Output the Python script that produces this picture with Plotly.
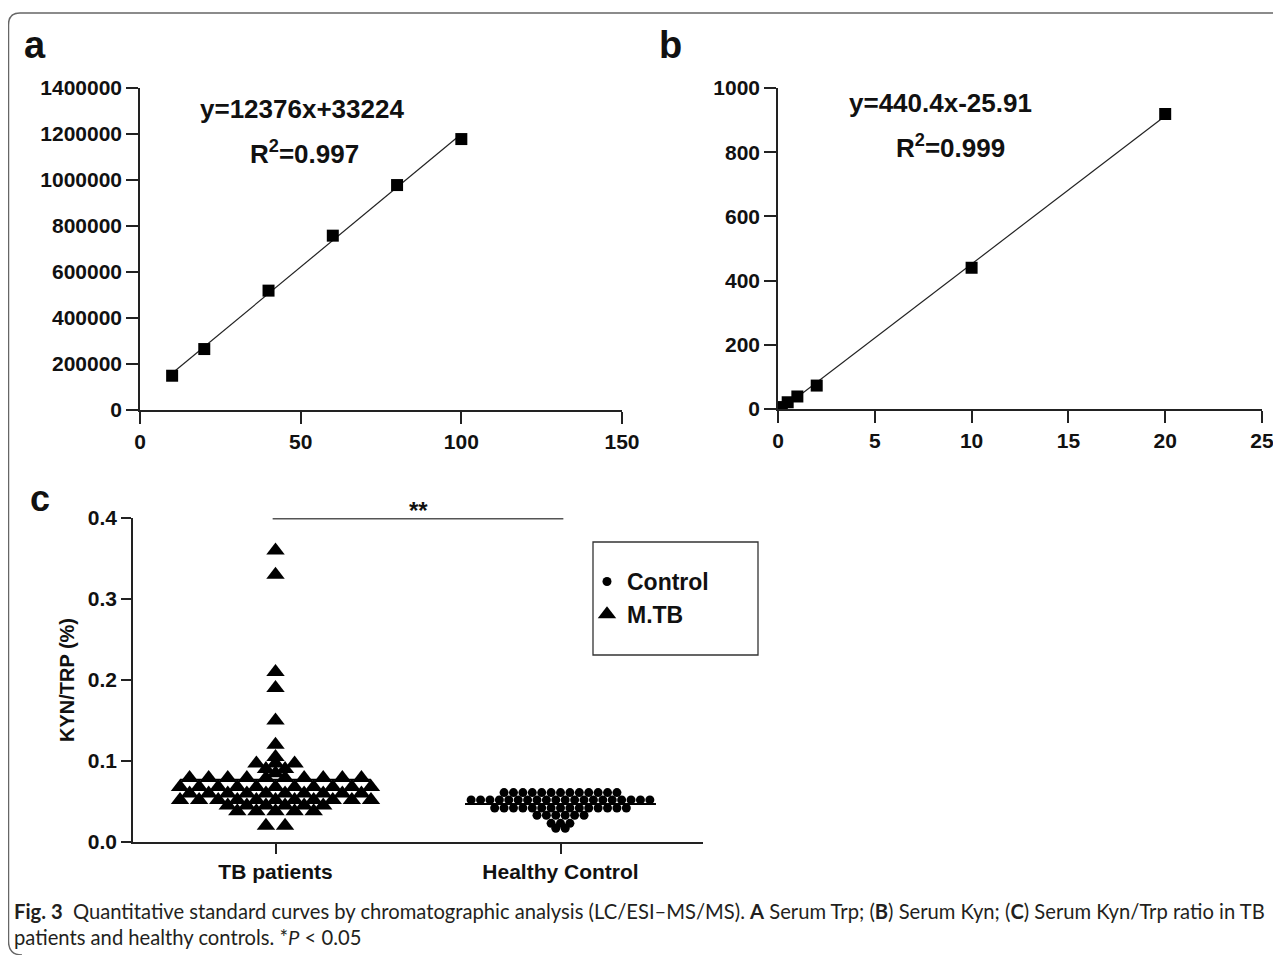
import numpy as np
import plotly.graph_objects as go

# ---------------- data ----------------
# Panel a: Serum Trp standard curve
a_x = [10, 20, 40, 60, 80, 100]
a_y = [149000, 265000, 519000, 758000, 978000, 1178000]
a_eq = "y=12376x+33224"
a_r2 = "R<sup>2</sup>=0.997"

# Panel b: Serum Kyn standard curve
b_x = [0.2, 0.5, 1, 2, 10, 20]
b_y = [6, 21, 39, 73, 440, 919]
b_eq = "y=440.4x-25.91"
b_r2 = "R<sup>2</sup>=0.999"

# Panel c: KYN/TRP ratio
c_categories = ["TB patients", "Healthy Control"]
tb_values = ([0.36, 0.33, 0.21, 0.19, 0.15, 0.12, 0.105,
              0.097, 0.097, 0.097, 0.09, 0.09, 0.085]
             + [0.079] * 10 + [0.068] * 11 + [0.06] * 10 + [0.052] * 11
             + [0.045] * 6 + [0.038] * 5 + [0.02] * 2)
control_values = ([0.061] * 13 + [0.052] * 20 + [0.042] * 15
                  + [0.033] * 6 + [0.023] * 3 + [0.017] * 2)
a_xticks = [0, 50, 100, 150]
a_yticks = [0, 200000, 400000, 600000, 800000, 1000000, 1200000, 1400000]
b_xticks = [0, 5, 10, 15, 20, 25]
b_yticks = [0, 200, 400, 600, 800, 1000]
c_yticks = [0.0, 0.1, 0.2, 0.3, 0.4]
legend_names = ["Control", "M.TB"]

# ---------------- layout helpers ----------------
W, H = 1281, 955
OFF = 8  # page body margin


def px(x):
    return (x - OFF) / W


def py(y):
    return 1 - (y - OFF) / H


def row_offsets(values, spacing):
    """Centre equal values in a horizontal row (column-scatter layout)."""
    counts = {}
    for v in values:
        counts[v] = counts.get(v, 0) + 1
    seen = {}
    offs = []
    for v in values:
        i = seen.get(v, 0)
        seen[v] = i + 1
        n = counts[v]
        offs.append((i - (n - 1) / 2) * spacing)
    return offs


FONT = "Liberation Sans"
INK = "#111111"
tickfont = dict(family=FONT, size=21, color=INK, weight="bold")

fig = go.Figure()

# ---- panel a ----
ka, ba = np.polyfit(a_x, a_y, 1)
ax_line = [min(a_x), max(a_x)]
fig.add_trace(go.Scatter(x=ax_line, y=[ka * v + ba for v in ax_line], mode="lines",
                         line=dict(color="#222", width=1.2), showlegend=False,
                         xaxis="x", yaxis="y"))
fig.add_trace(go.Scatter(x=a_x, y=a_y, mode="markers",
                         marker=dict(symbol="square", size=12, color="black"),
                         showlegend=False, xaxis="x", yaxis="y"))

# ---- panel b ----
kb, bb = np.polyfit(b_x, b_y, 1)
bx_line = [min(b_x), max(b_x)]
fig.add_trace(go.Scatter(x=bx_line, y=[kb * v + bb for v in bx_line], mode="lines",
                         line=dict(color="#222", width=1.2), showlegend=False,
                         xaxis="x2", yaxis="y2"))
fig.add_trace(go.Scatter(x=b_x, y=b_y, mode="markers",
                         marker=dict(symbol="square", size=12, color="black"),
                         showlegend=False, xaxis="x2", yaxis="y2"))

# ---- panel c ----
tb_x = [0 + o for o in row_offsets(tb_values, 0.067)]
ct_x = [1 + o for o in row_offsets(control_values, 0.033)]
fig.add_trace(go.Scatter(x=ct_x, y=control_values, mode="markers", name=legend_names[0],
                         marker=dict(symbol="circle", size=9, color="black"),
                         xaxis="x3", yaxis="y3"))
fig.add_trace(go.Scatter(x=tb_x, y=tb_values, mode="markers", name=legend_names[1],
                         marker=dict(symbol="triangle-up", size=16, color="black"),
                         xaxis="x3", yaxis="y3"))

shapes = []
for idx, vals in enumerate([tb_values, control_values]):
    m = float(np.mean(vals))
    shapes.append(dict(type="line", xref="x3", yref="y3", x0=idx - 0.335, x1=idx + 0.335,
                       y0=m, y1=m, line=dict(color="black", width=2)))
# significance bar
shapes.append(dict(type="line", xref="x3", yref="y3", x0=-0.01, x1=1.01, y0=0.399, y1=0.399,
                   line=dict(color="#555", width=1.5)))
# legend box
shapes.append(dict(type="rect", xref="paper", yref="paper", x0=px(593), x1=px(758),
                   y0=py(655), y1=py(542), line=dict(color="#333", width=1.3),
                   fillcolor="rgba(0,0,0,0)"))
# outer rounded frame
pts = [("M", 22, 955), ("Q", 8.5, 955, 8.5, 941), ("L", 8.5, 25),
       ("Q", 8.5, 13, 20, 13), ("L", 1290, 13)]
path = ""
for p in pts:
    cmd = p[0]
    coords = p[1:]
    s = []
    for i in range(0, len(coords), 2):
        s.append(f"{px(coords[i]):.5f},{py(coords[i+1]):.5f}")
    path += cmd + " " + " ".join(s) + " "
shapes.append(dict(type="path", xref="paper", yref="paper", path=path.strip(),
                   line=dict(color="#666", width=1.5)))

axis_common = dict(showline=True, linecolor="#222", linewidth=1.5, ticks="outside",
                   ticklen=12, tickwidth=1.5, tickcolor="#222", showgrid=False,
                   zeroline=False, tickfont=tickfont, fixedrange=True, automargin=False)

fig.update_layout(
    template="none",
    width=W, height=H, margin=dict(l=0, r=0, t=0, b=0, autoexpand=False),
    paper_bgcolor="white", plot_bgcolor="white",
    xaxis=dict(domain=[px(140), px(622)], range=[0, 150], tickvals=a_xticks,
               anchor="y", **axis_common),
    yaxis=dict(domain=[py(410), py(88)], range=[0, 1400000], tickvals=a_yticks,
               tickformat="d", anchor="x", **axis_common),
    xaxis2=dict(domain=[px(778), px(1262)], range=[0, 25], tickvals=b_xticks,
                anchor="y2", **axis_common),
    yaxis2=dict(domain=[py(409), py(88)], range=[0, 1000], tickvals=b_yticks,
                anchor="x2", **axis_common),
    xaxis3=dict(domain=[px(133), px(703)], range=[-0.5, 1.5], tickvals=[0, 1],
                ticktext=c_categories, anchor="y3",
                **{**axis_common, "ticklen": 10,
                   "tickfont": dict(family=FONT, size=21, color=INK, weight="bold")}),
    yaxis3=dict(domain=[py(842), py(518)], range=[0, 0.4], tickvals=c_yticks,
                tickformat=".1f", anchor="x3",
                title=dict(text="KYN/TRP (%)", font=dict(family=FONT, size=20, color=INK,
                                                         weight="bold"), standoff=8),
                **{**axis_common, "ticklen": 10}),
    showlegend=True,
    legend=dict(x=px(587), y=py(560), xanchor="left", yanchor="top",
                bgcolor="rgba(0,0,0,0)", borderwidth=0,
                font=dict(family=FONT, size=23, color=INK, weight="bold"),
                itemclick=False, itemdoubleclick=False),
    shapes=shapes,
)

ann_font = dict(family=FONT, size=26, color=INK, weight="bold")
annotations = [
    dict(text="a", x=px(35), y=py(45), font=dict(family=FONT, size=38, color=INK, weight="bold")),
    dict(text="b", x=px(670), y=py(45), font=dict(family=FONT, size=38, color=INK, weight="bold")),
    dict(text="c", x=px(40), y=py(498), font=dict(family=FONT, size=36, color=INK, weight="bold")),
    dict(text=a_eq, x=px(302), y=py(109), font=ann_font),
    dict(text=a_r2, x=px(304), y=py(152), font=ann_font),
    dict(text=b_eq, x=px(940), y=py(103), font=ann_font),
    dict(text=b_r2, x=px(950), y=py(146), font=ann_font),
    dict(text="**", x=0.5, y=0.399, xref="x3", yref="y3", yanchor="bottom", yshift=-7,
         font=dict(family=FONT, size=24, color=INK, weight="bold")),
    dict(text="<b>Fig. 3</b>  Quantitative standard curves by chromatographic analysis "
              "(LC/ESI–MS/MS). <b>A</b> Serum Trp; (<b>B</b>) Serum Kyn; (<b>C</b>) Serum "
              "Kyn/Trp ratio in TB",
         x=px(12), y=py(911), xanchor="left",
         font=dict(family="Lato", size=20.2, color="#231f20")),
    dict(text="patients and healthy controls. *<i>P</i> &lt; 0.05",
         x=px(12), y=py(937), xanchor="left",
         font=dict(family="Lato", size=20.2, color="#231f20")),
]
for a in annotations:
    a.setdefault("xref", "paper")
    a.setdefault("yref", "paper")
    a.setdefault("showarrow", False)
    a.setdefault("xanchor", "center")
    a.setdefault("yanchor", "middle")
fig.update_layout(annotations=annotations)

fig.write_html("out.html")
